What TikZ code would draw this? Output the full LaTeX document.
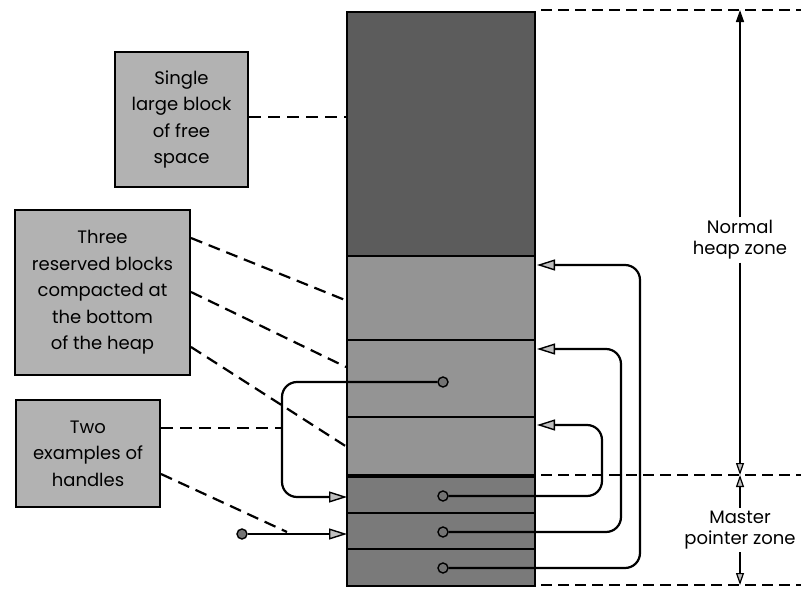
\documentclass[tikz,border=0pt]{standalone}
\usepackage{fontspec}
\setmainfont{Poppins}
\usetikzlibrary{arrows.meta}
\definecolor{freefill}{gray}{0.36}
\definecolor{resfill}{gray}{0.58}
\definecolor{mpfill}{gray}{0.48}
\definecolor{labfill}{gray}{0.7}
\begin{document}
\begin{tikzpicture}[x=1pt,y=-1pt,
  blk/.style={draw=black, line width=2.2pt, minimum width=188pt, inner sep=0pt, outer sep=0pt},
  lab/.style={draw=black, line width=2.4pt, fill=labfill, align=center, inner sep=0pt, font=\fontsize{18}{26.5}\selectfont},
  dimlab/.style={align=center, font=\fontsize{18}{21}\selectfont, inner sep=3pt},
  hdot/.style={circle, draw=black, line width=1.4pt, fill=black!55, minimum size=10pt, inner sep=0pt},
  ptr/.style={line width=2.2pt, rounded corners=15pt, -{Triangle[length=18pt,width=11pt,fill=black!25,line width=1.4pt]}},
  lead/.style={line width=2.2pt, dash pattern=on 12pt off 7pt},
  zone/.style={line width=1.3pt, dash pattern=on 11pt off 6pt},
  dimup/.style={line width=1.5pt, -{Triangle[length=12pt,width=8pt]}},
  dimopen/.style={line width=1.5pt, -{Triangle[length=12pt,width=8pt,fill=black!25,line width=1.2pt]}}
]
\useasboundingbox (0,0) rectangle (801,589);

% memory column
\node[blk, fill=freefill, minimum height=244pt] (free) at (441,134) {};
\node[blk, fill=resfill, minimum height=84pt] (r1) at (441,298) {};
\node[blk, fill=resfill, minimum height=77pt] (r2) at (441,378.5) {};
\node[blk, fill=resfill, minimum height=59pt] (r3) at (441,446.5) {};
\node[blk, fill=mpfill, minimum height=37pt] (m1) at (441,494.5) {};
\node[blk, fill=mpfill, minimum height=36pt] (m2) at (441,531) {};
\node[blk, fill=mpfill, minimum height=37pt] (m3) at (441,567.5) {};
\draw[line width=3.5pt] (r3.south west) -- (r3.south east);

% handle dots
\node[hdot] (d0) at (443,382) {};
\node[hdot] (d1) at (443,496) {};
\node[hdot] (d2) at (443,532) {};
\node[hdot] (d3) at (443,568) {};
\node[hdot] (h) at (242,534) {};

% arrow targets
\coordinate (t1) at (537,265);
\coordinate (t2) at (537,349);
\coordinate (t3) at (537,425);
\coordinate (tl1) at (347,497);
\coordinate (tl2) at (347,534);

% master pointers to blocks
\draw[ptr] (d1.east) -- (602,496) -- (602,425) -- (t3);
\draw[ptr] (d2.east) -- (621,532) -- (621,349) -- (t2);
\draw[ptr] (d3.east) -- (640,568) -- (640,265) -- (t1);
\draw[ptr] (d0.west) -- (282,382) -- (282,497) -- (tl1);
\draw[ptr] (h.east) -- (tl2);

% label boxes
\node[lab, minimum width=133pt, minimum height=135pt] (b1) at (181.5,119.5) {Single\\large block\\of free\\space};
\node[lab, minimum width=175pt, minimum height=165pt] (b2) at (102.5,292.5) {Three\\reserved blocks\\compacted at\\the bottom\\of the heap};
\node[lab, minimum width=144pt, minimum height=107pt] (b3) at (88,453.5) {Two\\examples of\\handles};

% leader lines
\coordinate (e1) at (347,117);
\coordinate (e2) at (345,300);
\coordinate (e3) at (346,367);
\coordinate (e4) at (347,447);
\coordinate (e5) at (282,428);
\coordinate (e6) at (287,532);
\draw[lead] (b1.east |- e1) -- (e1);
\draw[lead] (191,238) -- (e2);
\draw[lead] (191,292) -- (e3);
\draw[lead] (191,347) -- (e4);
\draw[lead] (b3.east |- e5) -- (e5);
\draw[lead] (161,474) -- (e6);

% zone boundaries
\coordinate (z1a) at (541,10);  \coordinate (z1b) at (801,10);
\coordinate (z2a) at (541,475); \coordinate (z2b) at (801,475);
\coordinate (z3a) at (541,585); \coordinate (z3b) at (801,585);
\draw[zone] (z1a) -- (z1b);
\draw[zone] (z2a) -- (z2b);
\draw[zone] (z3a) -- (z3b);

% zone labels
\node[dimlab] (nz) at (740,240) {Normal\\heap zone};
\node[dimlab] (mz) at (740,530) {Master\\pointer zone};
\draw[dimup] (nz.north) -- (nz.north |- z1a);
\draw[dimopen] (nz.south) -- (nz.south |- z2a);
\draw[dimopen] (mz.north) -- (mz.north |- z2a);
\draw[dimopen] (mz.south) -- (mz.south |- z3a);
\end{tikzpicture}
\end{document}
